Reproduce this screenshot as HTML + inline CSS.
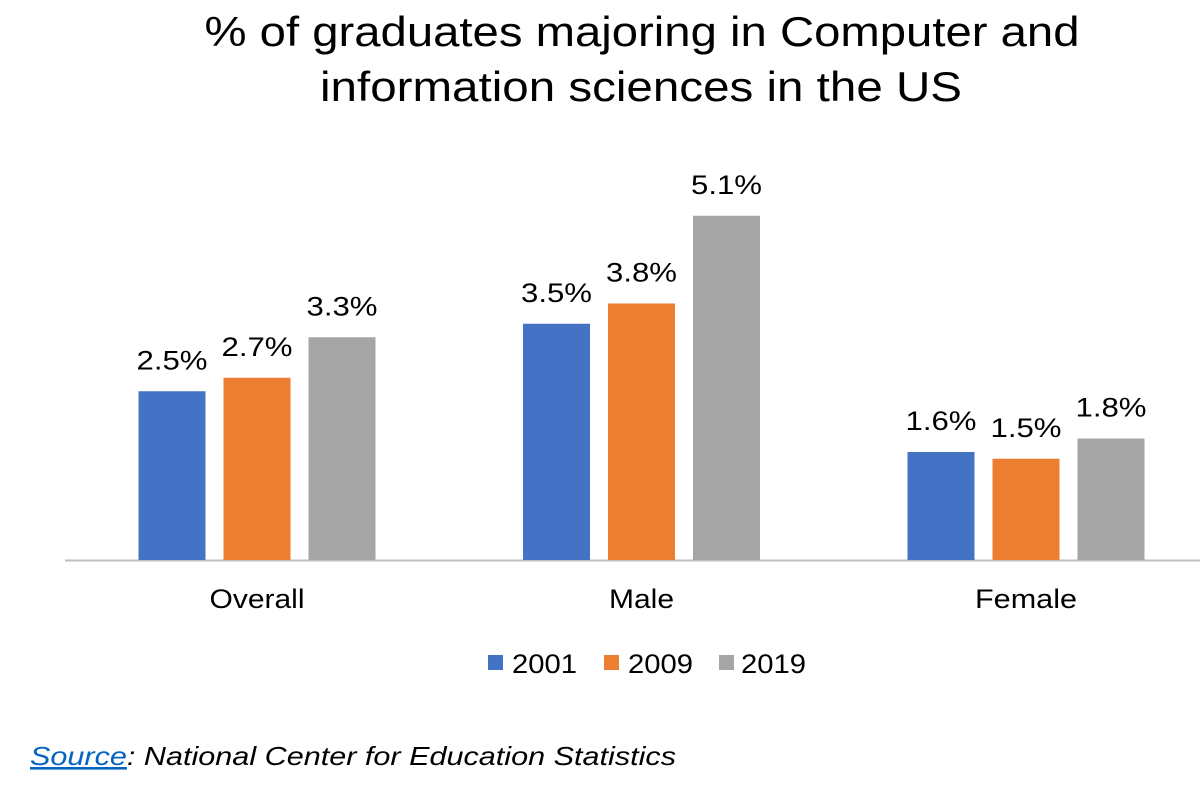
<!DOCTYPE html>
<html><head><meta charset="utf-8"><style>
body{margin:0;background:#fff;width:1200px;height:799px;overflow:hidden;font-family:"Liberation Sans",Arial,sans-serif}
</style></head><body>
<svg width="1200" height="799">
<text x="642" y="46" text-anchor="middle" font-size="42" textLength="875" lengthAdjust="spacingAndGlyphs" fill="#000">% of graduates majoring in Computer and</text>
<text x="641" y="101" text-anchor="middle" font-size="42" textLength="642" lengthAdjust="spacingAndGlyphs" fill="#000">information sciences in the US</text>
<line x1="65" y1="560.5" x2="1200" y2="560.5" stroke="#bfbfbf" stroke-width="2"/>
<g id="bars"></g>
<g>
<rect x="488" y="655" width="15" height="15" fill="#4472c4"/>
<text x="512" y="673" font-size="27" textLength="65" lengthAdjust="spacingAndGlyphs">2001</text>
<rect x="604" y="655" width="15" height="15" fill="#ed7d31"/>
<text x="628" y="673" font-size="27" textLength="65" lengthAdjust="spacingAndGlyphs">2009</text>
<rect x="719" y="655" width="15" height="15" fill="#a5a5a5"/>
<text x="741" y="673" font-size="27" textLength="65" lengthAdjust="spacingAndGlyphs">2019</text>
</g>
<text x="30" y="765" font-size="26" font-style="italic" textLength="646" lengthAdjust="spacingAndGlyphs" fill="#000"><tspan fill="#0563c1" text-decoration="underline">Source</tspan>: National Center for Education Statistics</text>
</svg>
<script>
const categories = ["Overall","Male","Female"];
const series = ["2001","2009","2019"];
const v2001 = [2.5,3.5,1.6];
const v2009 = [2.7,3.8,1.5];
const v2019 = [3.3,5.1,1.8];
const catWidths = [95,65,102];
const colors = ["#4472c4","#ed7d31","#a5a5a5"];
const vals = [v2001,v2009,v2019];
const base = 560, pxPer = 67.5;
const y = v => base - v*pxPer;
const cx = i => 257 + i*384.5;
const ns = "http://www.w3.org/2000/svg";
const g = document.getElementById('bars');
categories.forEach((c,i)=>{
  const t = document.createElementNS(ns,'text');
  t.setAttribute('x',cx(i)); t.setAttribute('y',608); t.setAttribute('text-anchor','middle'); t.setAttribute('font-size','27');
  t.setAttribute('textLength',catWidths[i]); t.setAttribute('lengthAdjust','spacingAndGlyphs');
  t.textContent = c;
  
  
  g.appendChild(t);
  vals.forEach((arr,s)=>{
    const x = cx(i) - 118.5 + s*85;
    const r = document.createElementNS(ns,'rect');
    r.setAttribute('x',x); r.setAttribute('y',y(arr[i])); r.setAttribute('width',67); r.setAttribute('height',base-y(arr[i]));
    r.setAttribute('fill',colors[s]);
    
    
    g.appendChild(r);
    const l = document.createElementNS(ns,'text');
    l.setAttribute('x',x+33.5); l.setAttribute('y',y(arr[i])-22); l.setAttribute('text-anchor','middle'); l.setAttribute('font-size','27');
    l.setAttribute('textLength',71); l.setAttribute('lengthAdjust','spacingAndGlyphs');
    l.textContent = arr[i].toFixed(1)+'%';
    
    
    g.appendChild(l);
  });
});
</script>
</body></html>
